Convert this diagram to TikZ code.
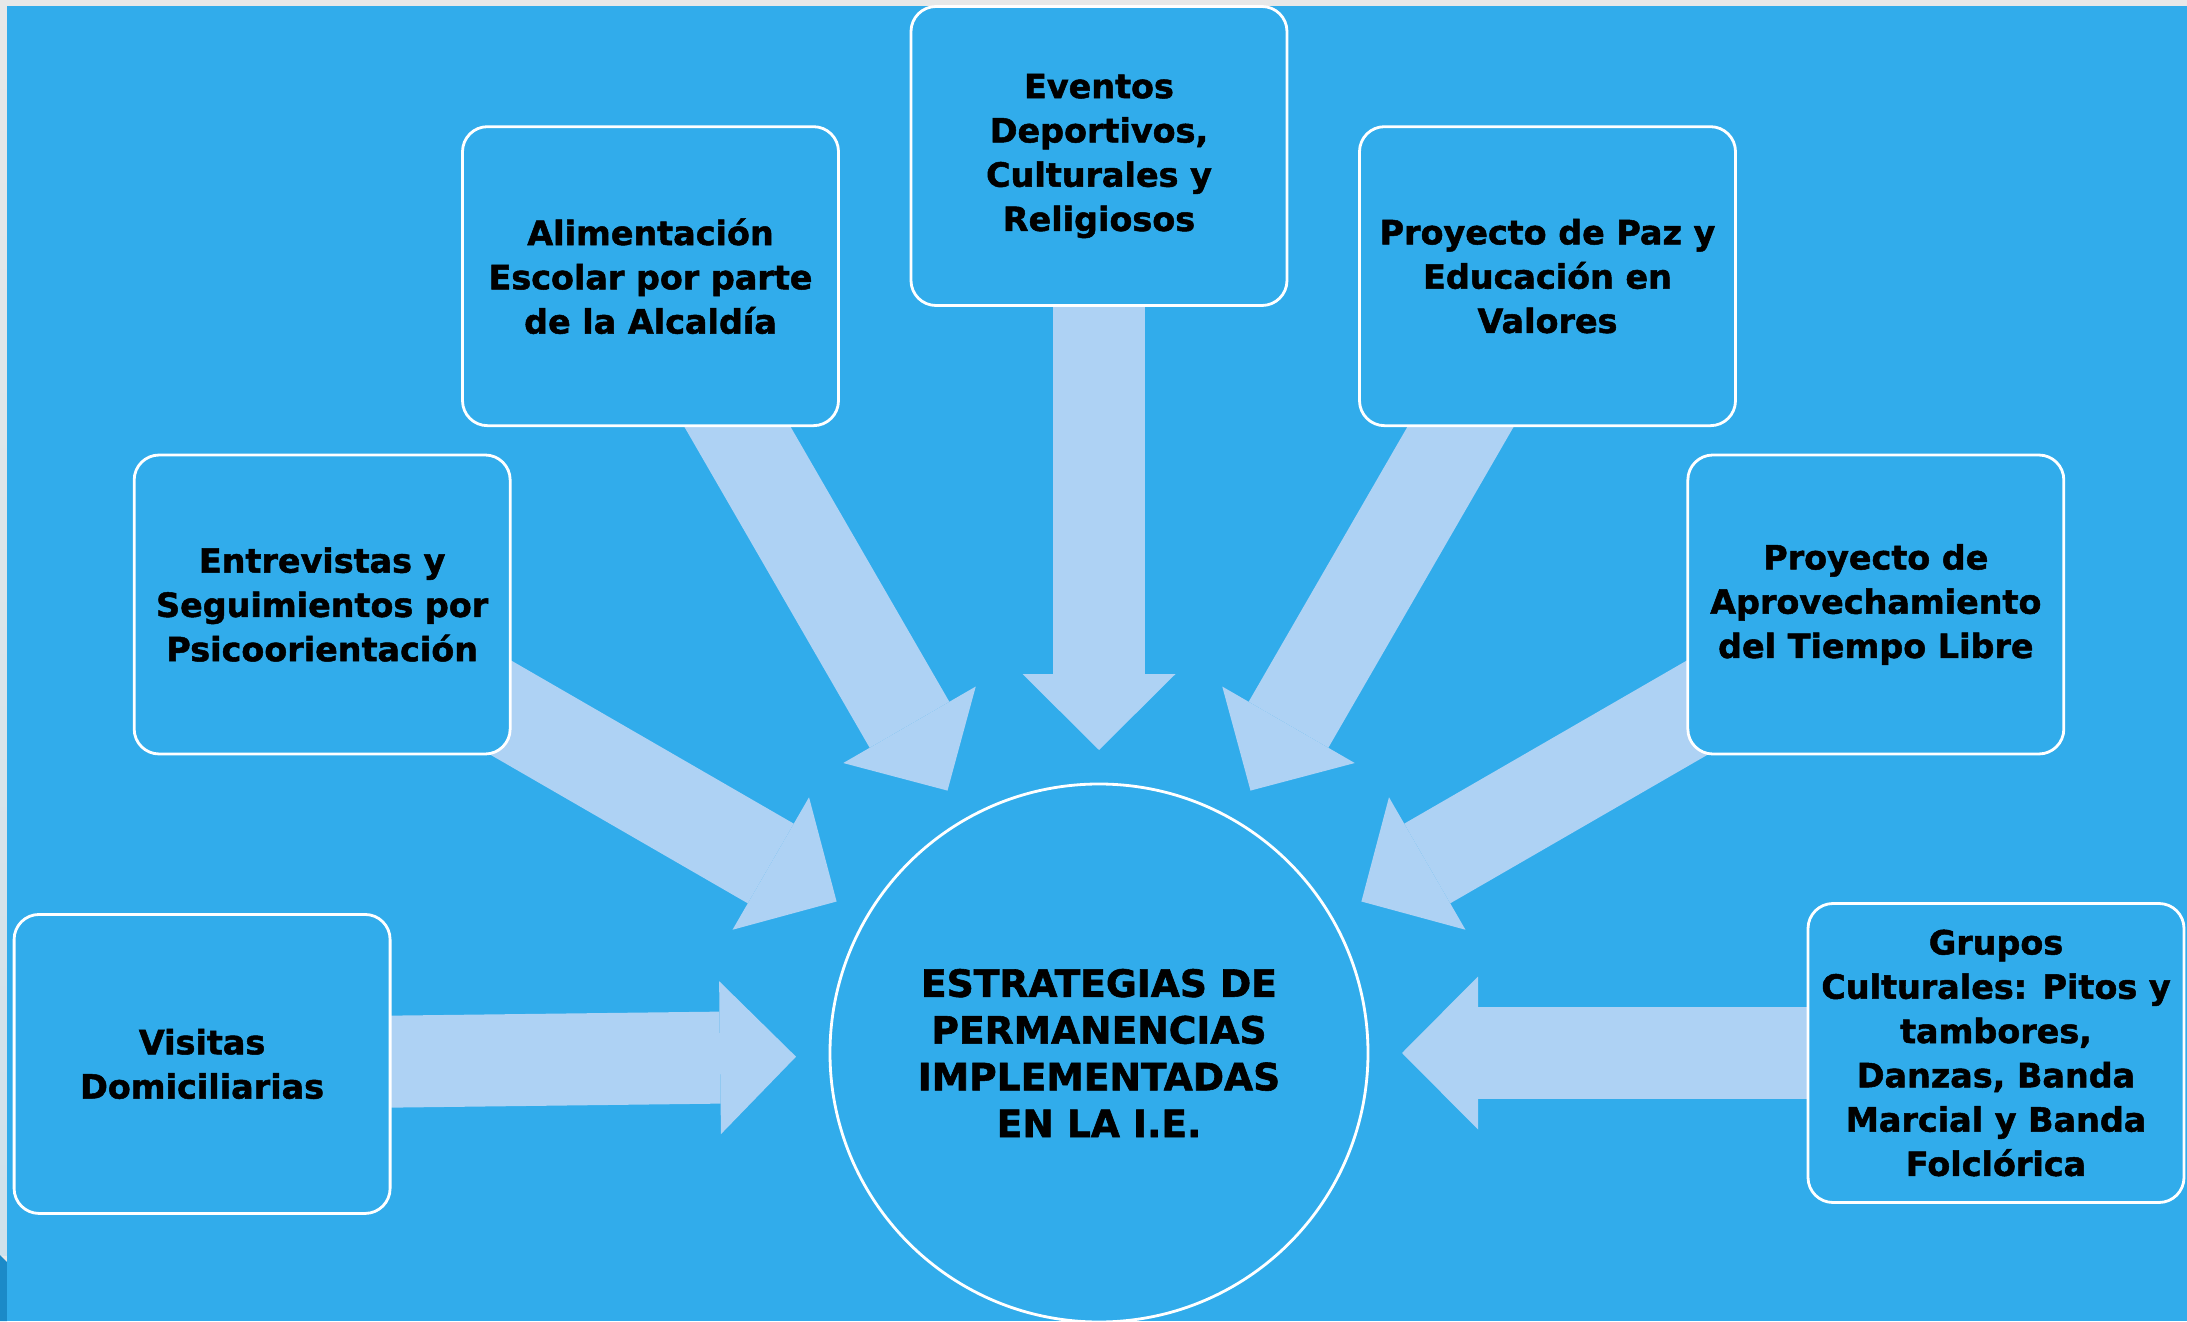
\documentclass[tikz,border=0pt]{standalone}
\usepackage{fontspec}
\setmainfont{DejaVu Sans}[BoldFeatures={FakeBold=1.5}]
\usetikzlibrary{arrows.meta,calc}
\definecolor{bgblue}{HTML}{31ACEB}
\definecolor{arrowblue}{HTML}{AED2F4}
\definecolor{edgegray}{HTML}{E7E8E8}
\definecolor{edgeblue}{HTML}{CFE1EB}
\definecolor{cornerblue}{HTML}{1B8AC8}
\pgfdeclarelayer{bg}
\pgfdeclarelayer{arrows}
\pgfsetlayers{bg,arrows,main}
\tikzset{
  itembox/.style={draw=white,line width=0.8pt,fill=bgblue,rounded corners=0.25cm,
    minimum width=3.76cm,minimum height=2.99cm,align=center,
    font=\bfseries\fontsize{9.5}{12.6}\selectfont},
  core/.style={circle,draw=white,line width=0.8pt,fill=bgblue,minimum size=5.38cm,
    align=center,font=\bfseries\fontsize{10.7}{13.3}\selectfont},
  blockarrow/.style={draw=arrowblue,line width=0.92cm,
    -{Triangle[width=1.53cm,length=0.76cm,line width=0pt]}},
}

\begin{document}
\begin{tikzpicture}
  \useasboundingbox (0,0) rectangle (21.87,13.21);
  \begin{pgfonlayer}{bg}
    \fill[edgegray] (0,0) rectangle (21.87,13.21);
    \shade[top color=edgegray,bottom color=edgeblue] (0,0.66) rectangle (0.07,13.21);
    \fill[cornerblue] (0,0) -- (0.07,0) -- (0.07,0.59) -- (0,0.66) -- cycle;
    \fill[bgblue] (0.07,0) rectangle (21.87,13.15);
  \end{pgfonlayer}

  \node[core] (core) at (10.99,2.68) {ESTRATEGIAS DE\\PERMANENCIAS\\IMPLEMENTADAS\\EN LA I.E.};

  % strategies round the core
  \node[itembox] (vis) at ($(core)+(180.7:8.97)$) {Visitas\\Domiciliarias};
  \node[itembox] (ent) at ($(core)+(150:8.97)$) {Entrevistas y\\Seguimientos por\\Psicoorientación};
  \node[itembox] (ali) at ($(core)+(120:8.97)$) {Alimentación\\Escolar por parte\\de la Alcaldía};
  \node[itembox] (eve) at ($(core)+(90:8.97)$) {Eventos\\Deportivos,\\Culturales y\\Religiosos};
  \node[itembox] (paz) at ($(core)+(60:8.97)$) {Proyecto de Paz y\\Educación en\\Valores};
  \node[itembox] (apr) at ($(core)+(30:8.97)$) {Proyecto de\\Aprovechamiento\\del Tiempo Libre};
  \node[itembox] (gru) at ($(core)+(0:8.97)$) {Grupos\\Culturales: Pitos y\\tambores,\\Danzas, Banda\\Marcial y Banda\\Folclórica};

  \begin{pgfonlayer}{arrows}
    \foreach \n in {vis,ent,ali,eve,paz,apr,gru}{
      \coordinate (t-\n) at ($(core)!3.03cm!(\n)$);
      \draw[blockarrow] (\n.center) -- (t-\n);
    }
  \end{pgfonlayer}
\end{tikzpicture}
\end{document}
